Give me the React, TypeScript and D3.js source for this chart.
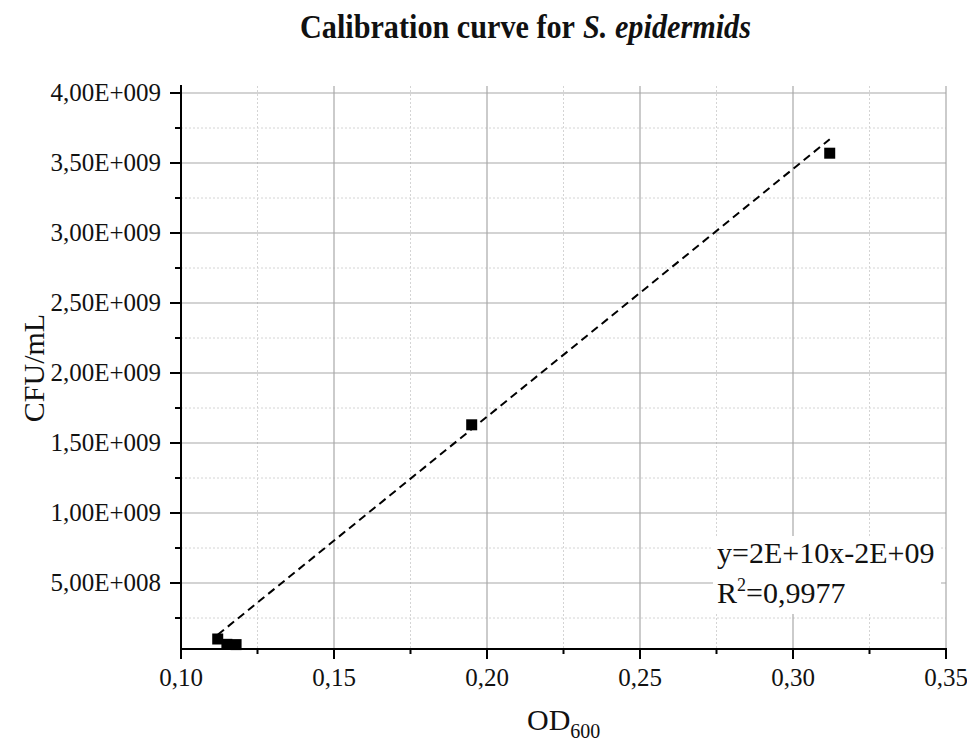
import React, { useEffect, useRef } from 'react';
import * as d3 from 'd3';

// measured points (OD600, CFU/mL)
const odValues = [0.112, 0.115, 0.118, 0.195, 0.312];
const cfuValues = [1.0e8, 0.62e8, 0.6e8, 1.63e9, 3.57e9];

// linear fit drawn by the software, endpoints
const fitOd = [0.112, 0.312];
const fitCfu = [1.3e8, 3.67e9];

const xMajorTicks = [0.1, 0.15, 0.2, 0.25, 0.3, 0.35];
const xMinorTicks = [0.125, 0.175, 0.225, 0.275, 0.325];
const yMajorTicks = [5e8, 1e9, 1.5e9, 2e9, 2.5e9, 3e9, 3.5e9, 4e9];
const yMinorTicks = [2.5e8, 7.5e8, 1.25e9, 1.75e9, 2.25e9, 2.75e9, 3.25e9, 3.75e9];

const fitEquation = 'y=2E+10x-2E+09';
const fitR2 = '=0,9977';

const W = 967;
const H = 741;
const FONT = '"Liberation Serif", "Times New Roman", serif';

const fmtX = (v: number) => v.toFixed(2).replace('.', ',');
const fmtY = (v: number) => {
  const exp = Math.floor(Math.log10(v));
  const mant = v / Math.pow(10, exp);
  return `${mant.toFixed(2).replace('.', ',')}E+${String(exp).padStart(3, '0')}`;
};

const App: React.FC = () => {
  const svgRef = useRef<SVGSVGElement>(null);

  useEffect(() => {
    if (!svgRef.current) return;
    const svg = d3.select(svgRef.current);
    svg.selectAll('*').remove();

    const left = 181;
    const right = 946;
    const top = 86;
    const bottom = 649;

    const x = d3.scaleLinear().domain([0.1, 0.35]).range([left, right]);
    const y = d3.scaleLinear().domain([0.0286e9, 4.05e9]).range([bottom, top]);

    svg.append('rect').attr('width', W).attr('height', H).attr('fill', '#fff');

    // minor grid
    const grid = svg.append('g');
    grid.selectAll('line.vmin').data(xMinorTicks).join('line')
      .attr('x1', d => x(d)).attr('x2', d => x(d))
      .attr('y1', top).attr('y2', bottom)
      .attr('stroke', '#d4d4d4').attr('stroke-dasharray', '2,2');
    grid.selectAll('line.hmin').data(yMinorTicks).join('line')
      .attr('x1', left).attr('x2', right)
      .attr('y1', d => y(d)).attr('y2', d => y(d))
      .attr('stroke', '#d4d4d4').attr('stroke-dasharray', '2,2');

    // major grid
    grid.selectAll('line.vmaj').data(xMajorTicks.slice(1)).join('line')
      .attr('x1', d => x(d)).attr('x2', d => x(d))
      .attr('y1', top).attr('y2', bottom)
      .attr('stroke', '#a8a8a8').attr('stroke-width', 1.2);
    grid.selectAll('line.hmaj').data(yMajorTicks).join('line')
      .attr('x1', left).attr('x2', right)
      .attr('y1', d => y(d)).attr('y2', d => y(d))
      .attr('stroke', '#a8a8a8').attr('stroke-width', 1.2);

    // fit line
    const line = d3.line<number>()
      .x((d, i) => x(fitOd[i]))
      .y(d => y(d));
    svg.append('path')
      .datum(fitCfu)
      .attr('d', line)
      .attr('fill', 'none')
      .attr('stroke', '#000')
      .attr('stroke-width', 2)
      .attr('stroke-dasharray', '8,5');

    // points
    svg.append('g').selectAll('rect').data(odValues).join('rect')
      .attr('x', (d) => x(d) - 5.5)
      .attr('y', (d, i) => y(cfuValues[i]) - 5.5)
      .attr('width', 11)
      .attr('height', 11)
      .attr('fill', '#000');

    // annotation box
    svg.append('rect')
      .attr('x', 713).attr('y', 536).attr('width', 228).attr('height', 78)
      .attr('fill', '#fff');
    svg.append('text')
      .attr('x', 717).attr('y', 563)
      .attr('font-family', FONT).attr('font-size', 30)
      .attr('fill', '#111')
      .text(fitEquation);
    const r2 = svg.append('text')
      .attr('x', 717).attr('y', 603)
      .attr('font-family', FONT).attr('font-size', 30)
      .attr('fill', '#111');
    r2.append('tspan').text('R');
    r2.append('tspan').attr('font-size', 18).attr('dy', -12).text('2');
    r2.append('tspan').attr('dy', 12).text(fitR2);

    // axes
    const xAxis = svg.append('g').attr('transform', `translate(0,${bottom})`);
    xAxis.append('line').attr('x1', left).attr('x2', right + 1).attr('stroke', '#000').attr('stroke-width', 2);
    xAxis.selectAll('line.maj').data(xMajorTicks).join('line')
      .attr('x1', d => x(d)).attr('x2', d => x(d))
      .attr('y1', 0).attr('y2', 10).attr('stroke', '#000').attr('stroke-width', 2);
    xAxis.selectAll('line.min').data(xMinorTicks).join('line')
      .attr('x1', d => x(d)).attr('x2', d => x(d))
      .attr('y1', 0).attr('y2', 5).attr('stroke', '#000').attr('stroke-width', 2);
    xAxis.selectAll('text').data(xMajorTicks).join('text')
      .attr('x', d => x(d)).attr('y', 37)
      .attr('text-anchor', 'middle')
      .attr('font-family', FONT).attr('font-size', 25)
      .attr('fill', '#111')
      .text(d => fmtX(d));

    const yAxis = svg.append('g').attr('transform', `translate(${left},0)`);
    yAxis.append('line').attr('y1', top - 1).attr('y2', bottom + 1).attr('stroke', '#000').attr('stroke-width', 2);
    yAxis.selectAll('line.maj').data(yMajorTicks).join('line')
      .attr('y1', d => y(d)).attr('y2', d => y(d))
      .attr('x1', 0).attr('x2', -11).attr('stroke', '#000').attr('stroke-width', 2);
    yAxis.selectAll('line.min').data(yMinorTicks).join('line')
      .attr('y1', d => y(d)).attr('y2', d => y(d))
      .attr('x1', 0).attr('x2', -6).attr('stroke', '#000').attr('stroke-width', 2);
    yAxis.selectAll('text').data(yMajorTicks).join('text')
      .attr('x', -20).attr('y', d => y(d) + 8)
      .attr('text-anchor', 'end')
      .attr('font-family', FONT).attr('font-size', 25)
      .attr('fill', '#111')
      .text(d => fmtY(d));

    // axis titles
    svg.append('text')
      .attr('transform', 'translate(44,368) rotate(-90)')
      .attr('text-anchor', 'middle')
      .attr('font-family', FONT).attr('font-size', 30)
      .attr('fill', '#111')
      .text('CFU/mL');

    const xt = svg.append('text')
      .attr('x', 527).attr('y', 730)
      .attr('font-family', FONT).attr('font-size', 30)
      .attr('fill', '#111');
    xt.append('tspan').text('OD');
    xt.append('tspan').attr('font-size', 20).attr('dy', 8).text('600');

    // title, condensed bold; species name in italics
    svg.append('text')
      .attr('x', 300).attr('y', 38)
      .attr('font-family', FONT).attr('font-size', 33)
      .attr('font-weight', 'bold')
      .attr('fill', '#111')
      .attr('textLength', 275)
      .attr('lengthAdjust', 'spacingAndGlyphs')
      .text('Calibration curve for');
    svg.append('text')
      .attr('x', 583).attr('y', 38)
      .attr('font-family', FONT).attr('font-size', 33)
      .attr('font-weight', 'bold')
      .attr('font-style', 'italic')
      .attr('fill', '#111')
      .attr('textLength', 168)
      .attr('lengthAdjust', 'spacingAndGlyphs')
      .text('S. epidermids');
  }, []);

  return (
    <svg
      ref={svgRef}
      width={W}
      height={H}
      style={{ position: 'absolute', left: 0, top: 0 }}
    />
  );
};

export default App;
